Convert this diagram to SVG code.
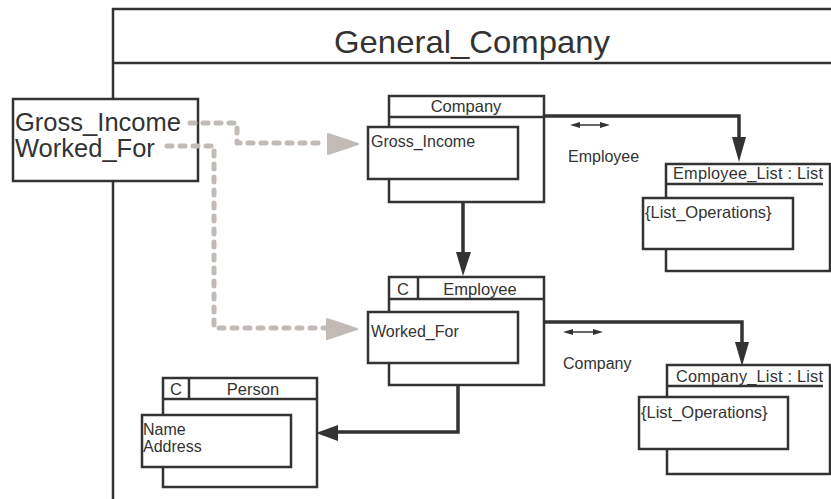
<svg xmlns="http://www.w3.org/2000/svg" width="831" height="499" viewBox="0 0 831 499">
<defs>
<style>
.ln{stroke:#333;stroke-width:2.5;fill:none}
.bx{stroke:#333;stroke-width:2.5;fill:#fff}
.t{font-family:"Liberation Sans",Arial,sans-serif;fill:#333}
.con{stroke:#333;stroke-width:3.5;fill:none;stroke-linejoin:miter}
.dot{stroke:#c2bab6;stroke-width:5;fill:none;stroke-linecap:round;stroke-dasharray:5 8;stroke-linejoin:round}
.dh{fill:#c2bab6;stroke:#c2bab6;stroke-width:2;stroke-linejoin:round}
.ah{fill:#333}
.da{stroke:#333;stroke-width:1.5;fill:none}
</style>
</defs>
<rect width="831" height="499" fill="#fff"/>
<g id="frame">
<path class="ln" d="M113,499 V9 H831 M113,63 H831"/>
<text class="t" x="472" y="53" font-size="32" text-anchor="middle" textLength="276" lengthAdjust="spacingAndGlyphs">General_Company</text>
</g>
<g id="interface">
<rect class="bx" x="13" y="99" width="185" height="82"/>
<text class="t" x="15" y="131" font-size="25.5" textLength="166" lengthAdjust="spacingAndGlyphs">Gross_Income</text>
<text class="t" x="15" y="157" font-size="25.5">Worked_For</text>
</g>
<g id="company">
<rect class="bx" x="389" y="96" width="155" height="106"/>
<line class="ln" x1="389" y1="117" x2="544" y2="117"/>
<text class="t" x="466" y="112" font-size="16.5" text-anchor="middle">Company</text>
<rect class="bx" x="368" y="127" width="150" height="52"/>
<text class="t" x="371" y="147" font-size="16">Gross_Income</text>
</g>
<g id="employee">
<rect class="bx" x="389" y="277" width="155" height="108"/>
<line class="ln" x1="389" y1="299" x2="544" y2="299"/>
<line class="ln" x1="418" y1="277" x2="418" y2="299"/>
<text class="t" x="403" y="295" font-size="16.5" text-anchor="middle">C</text>
<text class="t" x="480" y="295" font-size="16.5" text-anchor="middle">Employee</text>
<rect class="bx" x="368" y="312" width="150" height="51"/>
<text class="t" x="371" y="337" font-size="16">Worked_For</text>
</g>
<g id="person">
<rect class="bx" x="163" y="378" width="154" height="109"/>
<line class="ln" x1="163" y1="399" x2="317" y2="399"/>
<line class="ln" x1="189" y1="378" x2="189" y2="399"/>
<text class="t" x="176" y="395" font-size="16.5" text-anchor="middle">C</text>
<text class="t" x="253" y="395" font-size="16.5" text-anchor="middle">Person</text>
<rect class="bx" x="142" y="415" width="149" height="52"/>
<text class="t" x="143" y="435" font-size="16">Name</text>
<text class="t" x="143" y="452" font-size="16">Address</text>
</g>
<g id="employee_list">
<rect class="bx" x="666" y="164" width="164" height="107"/>
<line class="ln" x1="666" y1="184" x2="823" y2="184"/>
<text class="t" x="673" y="179" font-size="16.3" textLength="150" lengthAdjust="spacing">Employee_List : List</text>
<rect class="bx" x="643" y="198" width="150" height="51"/>
<text class="t" x="645" y="218" font-size="16.5">{List_Operations}</text>
</g>
<g id="company_list">
<rect class="bx" x="667" y="365" width="163" height="109"/>
<line class="ln" x1="667" y1="386" x2="823" y2="386"/>
<text class="t" x="676" y="382" font-size="16.3" textLength="147" lengthAdjust="spacing">Company_List : List</text>
<rect class="bx" x="639" y="397" width="149" height="52"/>
<text class="t" x="641" y="418" font-size="16.5">{List_Operations}</text>
</g>
<g id="connectors">
<path class="con" d="M463,203 V256"/>
<polygon class="ah" points="456,252 471,252 463,276"/>
<path class="con" d="M544,116 H739 V140"/>
<polygon class="ah" points="732,137 746,137 739,162"/>
<path class="con" d="M544,322 H742 V345"/>
<polygon class="ah" points="735,342 749,342 742,366"/>
<path class="con" d="M458,385 V432 H334"/>
<polygon class="ah" points="338,425 338,441 316,433"/>
<path class="da" d="M576,125 H604"/>
<polygon class="ah" points="570,125 580,122 580,128"/>
<polygon class="ah" points="610,125 600,122 600,128"/>
<path class="da" d="M569,332 H597"/>
<polygon class="ah" points="563,332 573,329 573,335"/>
<polygon class="ah" points="603,332 593,329 593,335"/>
<text class="t" x="568" y="162" font-size="16">Employee</text>
<text class="t" x="563" y="369" font-size="16">Company</text>
<path class="dot" d="M190,123 H237 V143 H326"/>
<polygon class="dh" points="328,134 358,144 328,154"/>
<path class="dot" d="M167,146 H214 V328 H325"/>
<polygon class="dh" points="327,319 357,329 327,339"/>
</g>
</svg>
